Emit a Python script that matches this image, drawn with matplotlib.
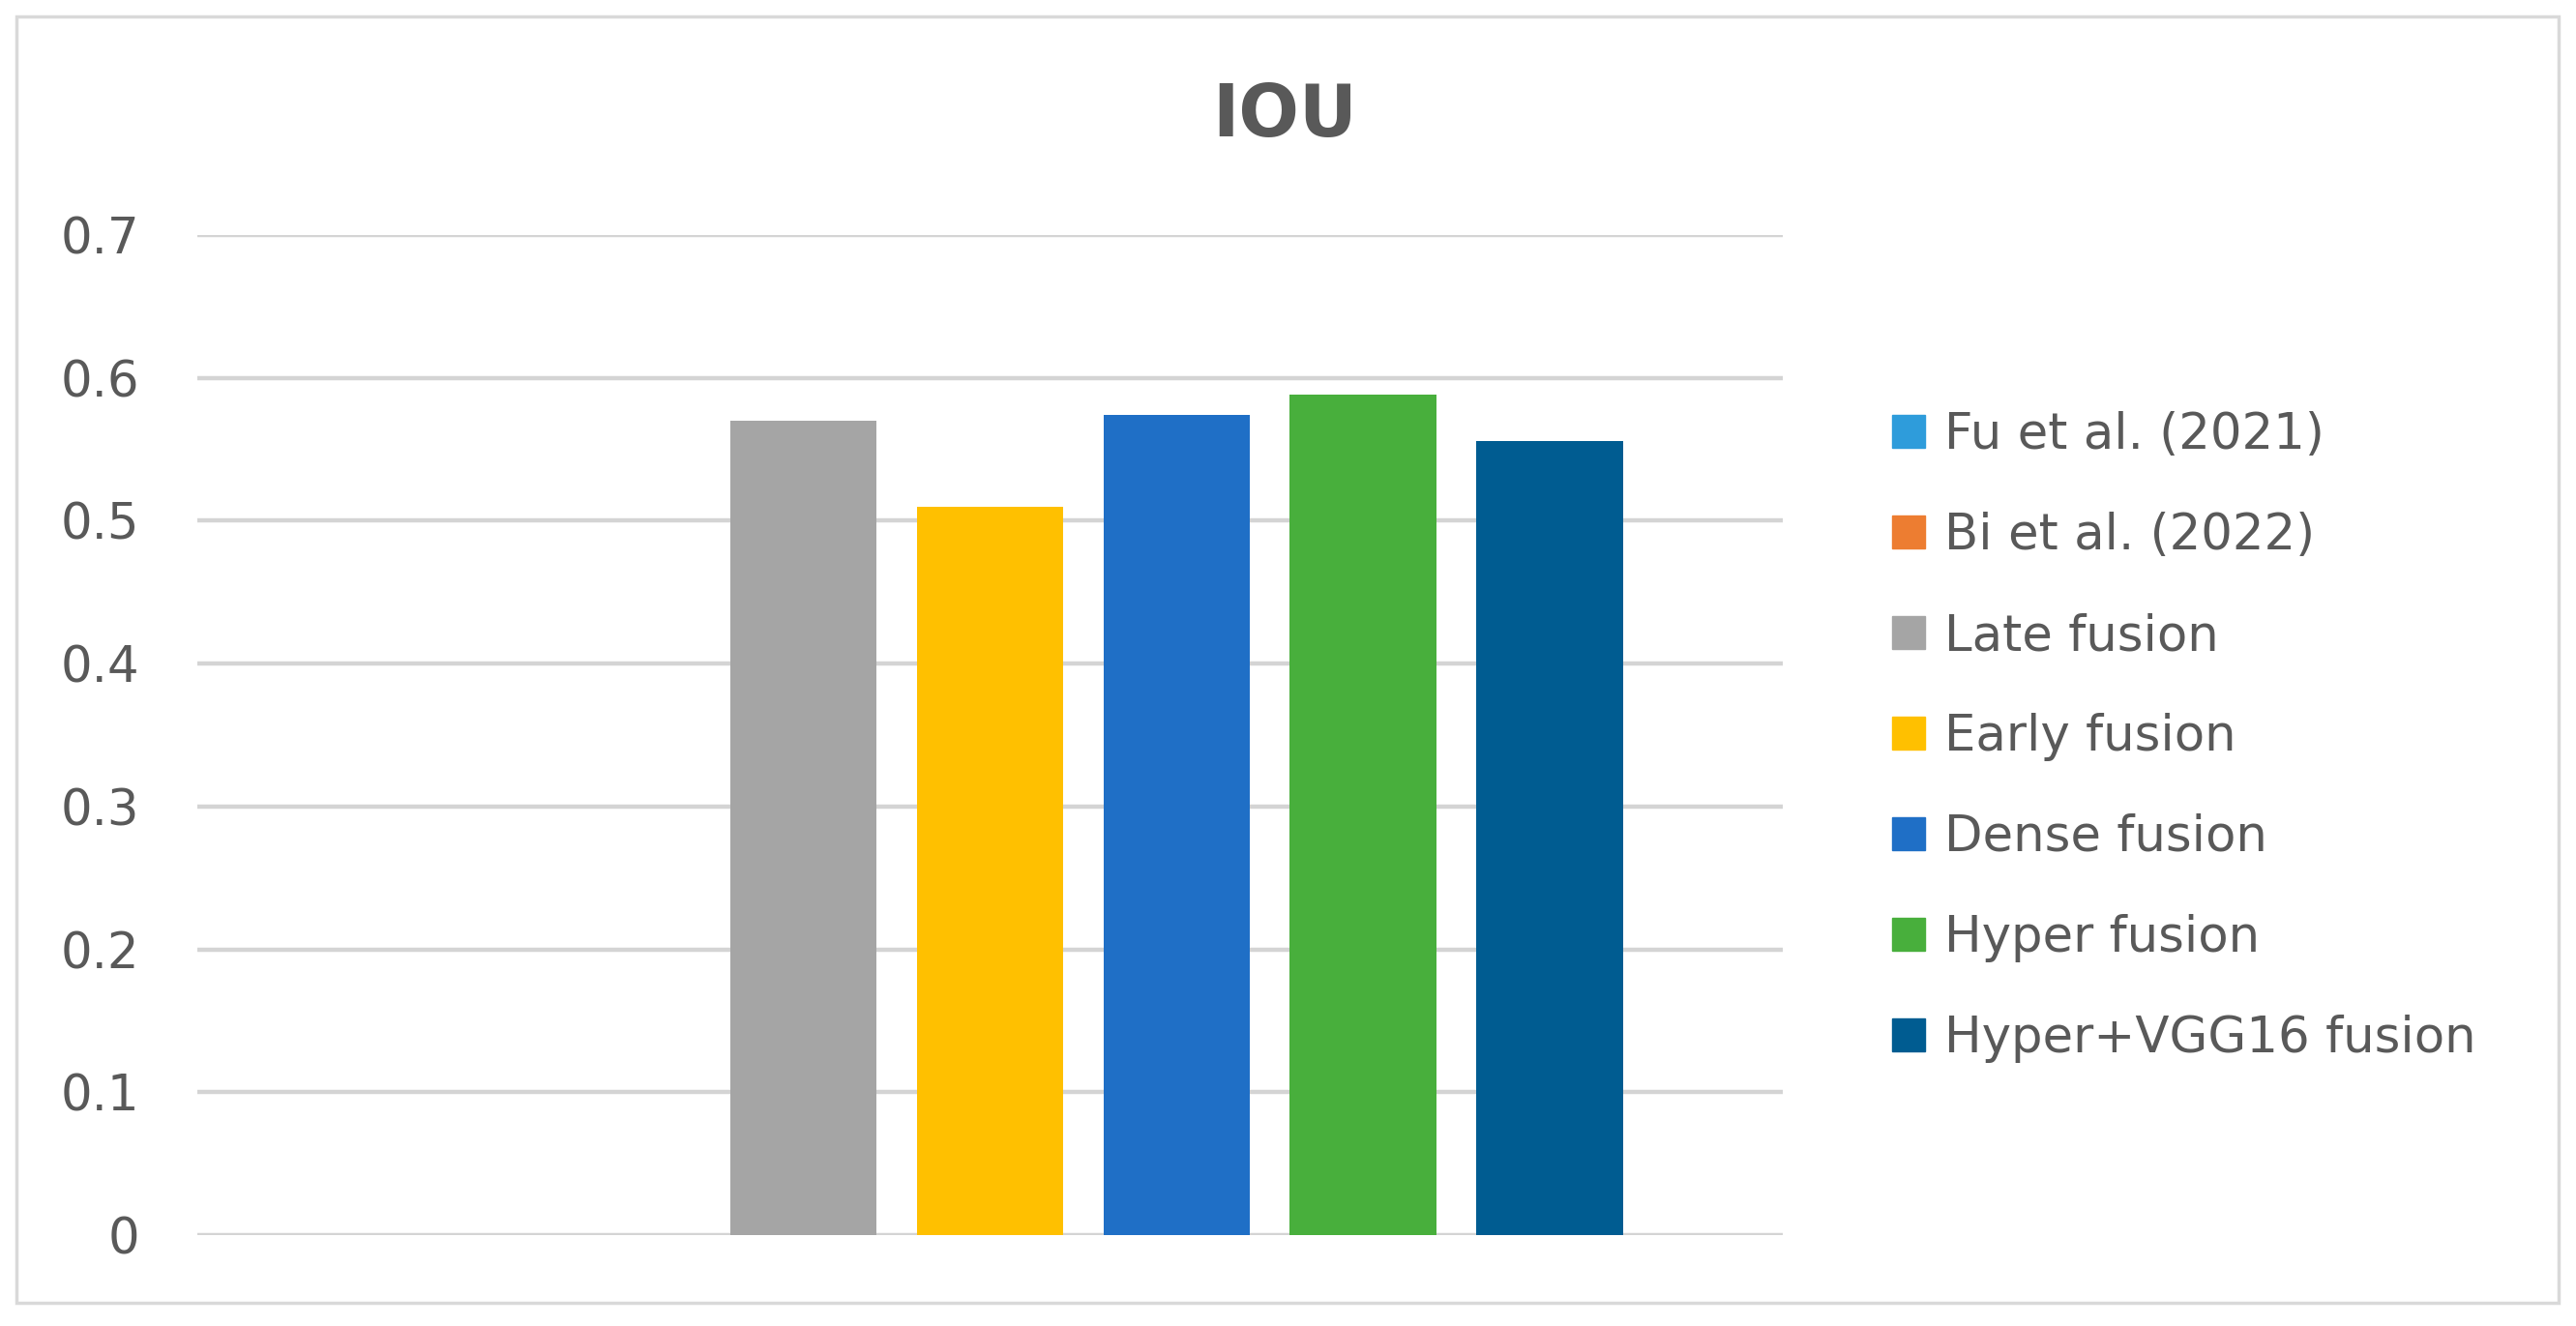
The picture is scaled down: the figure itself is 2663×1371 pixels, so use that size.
import numpy as np
import matplotlib
matplotlib.use("Agg")
from matplotlib import pyplot as plt
from matplotlib.patches import Rectangle

# data (one category, seven series)
series = ["Fu et al. (2021)", "Bi et al. (2022)", "Late fusion", "Early fusion",
          "Dense fusion", "Hyper fusion", "Hyper+VGG16 fusion"]
iou = [0.0, 0.0, 0.57, 0.51, 0.574, 0.588, 0.556]
colors = ["#2E9CDB", "#ED7D31", "#A5A5A5", "#FFC000", "#1F6FC6", "#48AF3C", "#005C91"]
yticks = [0, 0.1, 0.2, 0.3, 0.4, 0.5, 0.6, 0.7]
ytick_labels = ["0", "0.1", "0.2", "0.3", "0.4", "0.5", "0.6", "0.7"]

W, H = 2663, 1371
fig = plt.figure(figsize=(W / 100, H / 100), dpi=100)
fig.patch.set_facecolor("white")

# outer chart border
fig.patches.append(Rectangle((17 / W, 1 - 1347 / H), (2645 - 17) / W, (1347 - 17) / H,
                             transform=fig.transFigure, fill=False,
                             edgecolor="#D9D9D9", linewidth=2.5))

ax = fig.add_axes([204 / W, 1 - 1277 / H, (1843 - 204) / W, (1277 - 243) / H])

x = np.arange(len(series))
bars = ax.bar(x, iou, width=0.785, color=colors, linewidth=0, zorder=3)

ax.set_xlim(-1.25, 7.25)
ax.set_ylim(0, 0.7)
ax.set_yticks(yticks)
ax.set_yticklabels(ytick_labels)
ax.set_xticks([])
ax.yaxis.grid(True, color="#D4D4D4", linewidth=3.2, zorder=0)
ax.set_axisbelow(True)
for s in ax.spines.values():
    s.set_visible(False)
ax.tick_params(axis="y", length=0, pad=43, labelsize=37, labelcolor="#595959")
for lab in ax.get_yticklabels():
    lab.set_family("DejaVu Sans")

fig.text(1328 / W, 1 - 120 / H, "IOU", ha="center", va="center",
         fontsize=53, fontweight="bold", color="#595959", family="DejaVu Sans")

handles = [Rectangle((0, 0), 1, 1, color=c) for c in colors]
leg = fig.legend(handles, series, loc="center left",
                 bbox_to_anchor=(1956 / W, 1 - 762 / H), frameon=False,
                 prop={"family": "DejaVu Sans", "size": 37},
                 handlelength=0.66, handleheight=0.64, handletextpad=0.4,
                 labelspacing=1.05, borderpad=0, borderaxespad=0)
for t in leg.get_texts():
    t.set_color("#595959")

fig.savefig("out.png", dpi=100)
